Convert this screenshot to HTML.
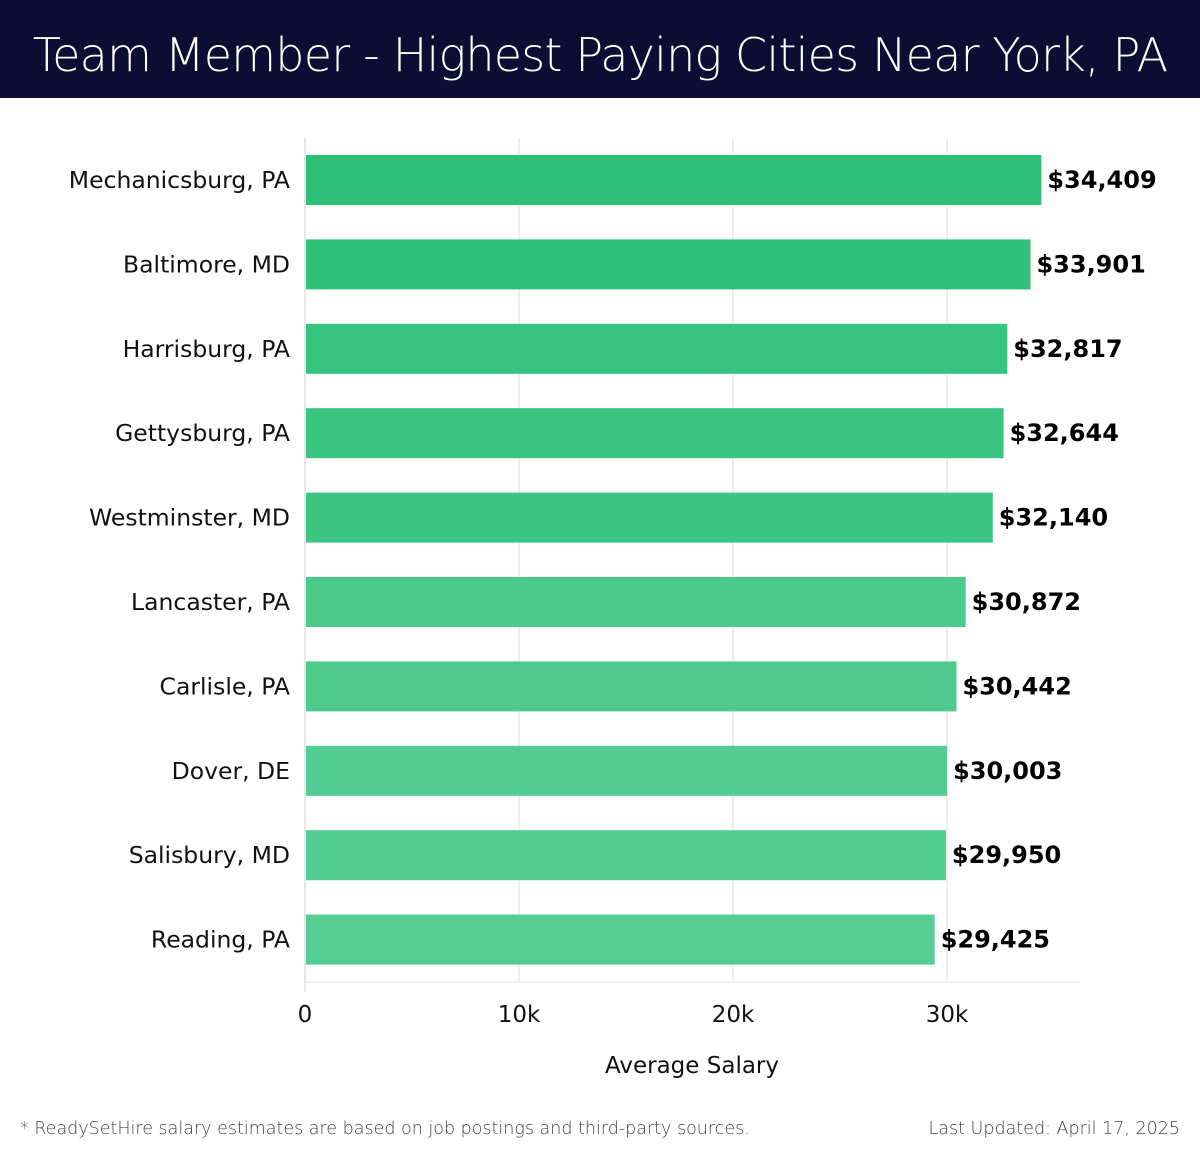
<!DOCTYPE html>
<html><head><meta charset="utf-8"><style>
body{margin:0;width:1200px;height:1158px;background:#fff;font-family:"DejaVu Sans","Liberation Sans",sans-serif;position:relative;overflow:hidden}
#hdr{position:absolute;left:0;top:0;width:1200px;height:98px;background:#0b0d33;color:#fff;font-size:46px;line-height:110px;text-align:center;white-space:nowrap;font-family:"DejaVu Sans","Liberation Sans",sans-serif;font-weight:300;letter-spacing:-0.8px}
.foot{position:absolute;top:1119px;font-size:17.5px;color:#444;font-family:"DejaVu Sans","Liberation Sans",sans-serif;font-weight:300;white-space:nowrap}
</style></head><body>
<div id="hdr">Team Member - Highest Paying Cities Near York, PA</div>
<svg id="chart" width="1200" height="1158" style="position:absolute;left:0;top:0"></svg>
<div class="foot" style="left:20px">* ReadySetHire salary estimates are based on job postings and third-party sources.</div>
<div class="foot" style="right:20px">Last Updated: April 17, 2025</div>
<script>
const cities=["Mechanicsburg, PA","Baltimore, MD","Harrisburg, PA","Gettysburg, PA","Westminster, MD","Lancaster, PA","Carlisle, PA","Dover, DE","Salisbury, MD","Reading, PA"];
const salaries=[34409,33901,32817,32644,32140,30872,30442,30003,29950,29425];
const ticks=[0,10000,20000,30000];
const tickLabels=["0","10k","20k","30k"];
const colors=["#2dbf78","#30c07a","#38c37f","#39c480","#3cc582","#4ac98a","#4dca8c","#52cc90","#53cc91","#56cd93"];
const svg=document.getElementById('chart');const NS="http://www.w3.org/2000/svg";
const x0=305,pxPer=0.0214,top0=138,step=84.4,bh=50;
const xs=v=>x0+v*pxPer;
function mk(t,a,p){const e=document.createElementNS(NS,t);for(const k in a)e.setAttribute(k,a[k]);(p||svg).appendChild(e);return e;}
ticks.forEach((t,i)=>{
 const g=mk('line',{x1:xs(t),x2:xs(t),y1:138,y2:982,stroke:'#ddd','stroke-width':1});
 
 
 const l=mk('text',{x:xs(t),y:1022,'text-anchor':'middle','font-size':23,fill:'#111'});l.textContent=tickLabels[i];
 
 
});
const ax=mk('line',{x1:305,x2:1080,y1:982,y2:982,stroke:'#ddd'});


cities.forEach((c,i)=>{
 const y=top0+17+i*step;
 const r=mk('rect',{x:306,y:y,width:xs(salaries[i])-306,height:bh,fill:colors[i]});
 
 
 const l=mk('text',{x:290,y:y+33,'text-anchor':'end','font-size':23.5,fill:'#111'});l.textContent=c;
 
 
 const v=mk('text',{x:xs(salaries[i])+6,y:y+33,'font-size':24,'font-weight':'bold',fill:'#000'});v.textContent='$'+salaries[i].toLocaleString('en-US');
 
 
});
const at=mk('text',{x:692,y:1073,'text-anchor':'middle','font-size':23,fill:'#111'});at.textContent='Average Salary';


const yl=mk('line',{x1:305,x2:305,y1:138,y2:992,stroke:'#ccc'});


</script>
</body></html>
